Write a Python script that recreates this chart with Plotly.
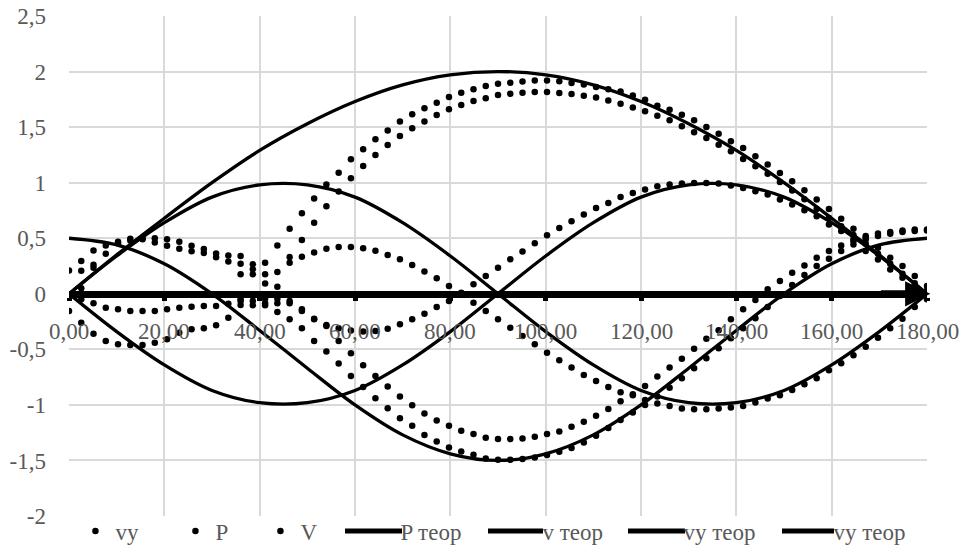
import plotly.graph_objects as go

# Measurement angles (degrees) for the experimental points
phi = [round(k * 180 / 70, 3) for k in range(71)]

# Experimental series, two runs each (None = no reading)
vy_run1 = [
    None, 0.05, 0.235, None, None, None, None, None, None, None,
    None, None, None, None, 0.175, 0.175, 0.093, 0.064, 0.28, 0.333,
    0.372, 0.405, 0.42, 0.42, 0.41, 0.387, 0.35, 0.31, 0.26, 0.20,
    0.14, 0.07, 0.0, -0.08, -0.155, -0.23, -0.305, -0.38, -0.455, -0.53,
    -0.598, -0.664, -0.73, -0.784, -0.84, -0.886, -0.913, -0.955, -0.988, -1.01,
    -1.033, -1.04, -1.04, -1.033, -1.024, -1.01, -0.979, -0.943, -0.913, -0.865,
    -0.814, -0.76, -0.688, -0.625, -0.553, -0.476, -0.395, -0.311, -0.224, -0.12,
    -0.05,
]
vy_run2 = [
    None, None, None, None, None, None, None, None, None, None,
    None, None, None, None, -0.065, -0.065, -0.086, -0.086, -0.086, -0.14,
    -0.225, -0.28, -0.31, -0.33, -0.34, -0.335, -0.314, -0.275, -0.23, -0.179,
    -0.119, -0.065, 0.01, 0.085, 0.16, 0.235, 0.31, 0.38, 0.455, 0.527,
    0.593, 0.653, 0.713, 0.773, 0.818, 0.872, 0.908, 0.938, 0.968, 0.983,
    0.992, 0.998, 0.998, 0.992, 0.974, 0.953, 0.923, 0.893, 0.848, 0.803,
    0.752, 0.698, 0.623, 0.564, 0.474, 0.384, 0.309, 0.219, 0.144, 0.07,
    0.01,
]
P_run1 = [
    0.21, 0.294, 0.39, 0.435, 0.468, 0.495, 0.50, 0.50, 0.49, 0.468,
    0.433, 0.403, 0.363, 0.345, 0.34, 0.265, 0.28, 0.435, 0.585, 0.725,
    0.857, 0.983, 1.09, 1.21, 1.30, 1.39, 1.47, 1.55, 1.615, 1.67,
    1.72, 1.77, 1.81, 1.84, 1.87, 1.89, 1.90, 1.91, 1.92, 1.92,
    1.913, 1.898, 1.883, 1.86, 1.84, 1.82, 1.785, 1.747, 1.693, 1.657,
    1.612, 1.561, 1.501, 1.441, 1.372, 1.313, 1.237, 1.163, 1.088, 1.013,
    0.932, 0.848, 0.764, 0.675, 0.585, 0.504, 0.414, 0.324, 0.249, 0.159,
    0.07,
]
P_run2 = [
    None, 0.207, 0.262, 0.36, 0.455, 0.48, 0.49, 0.462, 0.432, 0.405,
    0.382, 0.366, 0.328, 0.29, 0.27, 0.22, 0.175, 0.195, 0.33, 0.485,
    0.64, 0.787, 0.92, 1.04, 1.15, 1.25, 1.34, 1.42, 1.49, 1.55,
    1.61, 1.66, 1.70, 1.735, 1.76, 1.79, 1.80, 1.81, 1.815, 1.815,
    1.806, 1.797, 1.782, 1.767, 1.74, 1.71, 1.677, 1.642, 1.603, 1.561,
    1.507, 1.453, 1.402, 1.342, 1.282, 1.214, 1.148, 1.08, 1.005, 0.93,
    0.85, 0.764, 0.683, 0.608, 0.53, 0.45, 0.36, 0.27, 0.18, 0.095,
    0.03,
]
V_run1 = [
    None, -0.05, -0.086, -0.125, -0.14, -0.155, -0.155, -0.155, -0.14, -0.125,
    -0.116, -0.11, -0.11, -0.09, -0.05, -0.02, -0.045, -0.045, -0.065, -0.155,
    -0.23, -0.29, -0.425, -0.535, -0.643, -0.74, -0.835, -0.925, -1.003, -1.078,
    -1.14, -1.188, -1.233, -1.263, -1.296, -1.308, -1.308, -1.302, -1.287, -1.263,
    -1.239, -1.197, -1.152, -1.098, -1.038, -0.967, -0.904, -0.829, -0.745, -0.664,
    -0.584, -0.494, -0.404, -0.329, -0.23, -0.14, -0.056, 0.04, 0.114, 0.189,
    0.255, 0.324, 0.384, 0.435, 0.489, 0.519, 0.543, 0.555, 0.57, 0.579,
    0.579,
]
V_run2 = [
    -0.155, -0.26, -0.36, -0.425, -0.455, -0.46, -0.46, -0.44, -0.41, -0.35,
    -0.32, -0.31, -0.284, -0.215, -0.1, -0.104, -0.104, -0.165, -0.23, -0.31,
    -0.425, -0.52, -0.627, -0.74, -0.84, -0.94, -1.03, -1.12, -1.188, -1.27,
    -1.33, -1.383, -1.419, -1.449, -1.482, -1.494, -1.494, -1.488, -1.473, -1.452,
    -1.422, -1.389, -1.338, -1.278, -1.209, -1.137, -1.069, -1.0, -0.925, -0.845,
    -0.76, -0.67, -0.58, -0.49, -0.40, -0.31, -0.22, -0.12, -0.02, 0.08,
    0.17, 0.25, 0.315, 0.384, 0.444, 0.489, 0.52, 0.54, 0.555, 0.565,
    0.57,
]

# Theoretical curves, tabulated every 10 degrees
theta = [0, 10, 20, 30, 40, 50, 60, 70, 80, 90, 100, 110, 120, 130, 140, 150, 160, 170, 180]
P_theor = [0, 0.35, 0.68, 1.0, 1.29, 1.53, 1.73, 1.88, 1.97, 2.0,
           1.97, 1.88, 1.73, 1.53, 1.29, 1.0, 0.68, 0.35, 0]
v_theor = [0.5, 0.44, 0.27, 0.0, -0.33, -0.67, -1.0, -1.27, -1.44, -1.5,
           -1.44, -1.27, -1.0, -0.67, -0.33, 0.0, 0.27, 0.44, 0.5]
vy_theor_a = [0, 0.34, 0.64, 0.87, 0.98, 0.98, 0.87, 0.64, 0.34, 0,
              -0.34, -0.64, -0.87, -0.98, -0.98, -0.87, -0.64, -0.34, 0]
vy_theor_b = [0, -0.34, -0.64, -0.87, -0.98, -0.98, -0.87, -0.64, -0.34, 0,
              0.34, 0.64, 0.87, 0.98, 0.98, 0.87, 0.64, 0.34, 0]

x_ticks = [0, 20, 40, 60, 80, 100, 120, 140, 160, 180]
x_tick_text = ["0,00", "20,00", "40,00", "60,00", "80,00", "100,00", "120,00", "140,00", "160,00", "180,00"]
y_ticks = [-2, -1.5, -1, -0.5, 0, 0.5, 1, 1.5, 2, 2.5]
y_tick_text = ["-2", "-1,5", "-1", "-0,5", "0", "0,5", "1", "1,5", "2", "2,5"]

FONT = "Liberation Serif"
GREY = "#595959"
GRID = "#d9d9d9"
FS = 23

# Figure geometry (pixels)
W, H = 963, 546
ML, MR, MT, MB = 69, 36, 16, 30
LEGEND_Y = -0.03

fig = go.Figure()

dot_series = [
    ("vy", vy_run1, vy_run2, 55),
    ("P", P_run1, P_run2, 40),
    ("V", V_run1, V_run2, 55),
]
for name, run1, run2, lw in dot_series:
    fig.add_trace(go.Scatter(
        x=phi + phi, y=run1 + run2, name=name, mode="markers",
        marker=dict(color="black", size=6.5),
        legendwidth=lw,
    ))

# name, values, legend entry width, legend key span in px
line_series = [
    ("P теор", P_theor, 97, (345, 402)),
    ("v теор", v_theor, 96, (488, 543)),
    ("vy теор", vy_theor_a, 105, (628, 685)),
    ("vy теор", vy_theor_b, 80, (782, 834)),
]
for name, vals, lw, _ in line_series:
    fig.add_trace(go.Scatter(
        x=theta, y=vals, name=name, mode="lines",
        line=dict(color="black", width=3.3, shape="spline"),
        legendwidth=lw,
    ))

# Longer, heavier keys for the line entries of the legend
plot_w = W - ML - MR
for _, _, _, (x0, x1) in line_series:
    fig.add_shape(
        type="line", xref="paper", yref="paper",
        x0=(x0 - ML) / plot_w, x1=(x1 - ML) / plot_w, y0=LEGEND_Y, y1=LEGEND_Y,
        line=dict(color="black", width=5), layer="above",
    )

# Arrowhead at the end of the x-axis line
fig.add_annotation(
    x=180.7, y=0, ax=170, ay=0, xref="x", yref="y", axref="x", ayref="y",
    showarrow=True, arrowhead=2, arrowwidth=7, arrowsize=0.72, arrowcolor="black",
    text="",
)

# Category labels sit just under the zero line
for t, label in zip(x_ticks, x_tick_text):
    fig.add_annotation(
        x=t, y=0, xref="x", yref="y", text=label, showarrow=False,
        xanchor="center", yanchor="middle", yshift=-38,
        font=dict(family=FONT, size=FS, color=GREY),
    )

fig.update_layout(
    width=W, height=H,
    margin=dict(l=ML, r=MR, t=MT, b=MB, autoexpand=False),
    paper_bgcolor="white", plot_bgcolor="white",
    font=dict(family=FONT, size=FS, color=GREY),
    showlegend=True,
    legend=dict(
        orientation="h", x=0.0075, xanchor="left", y=LEGEND_Y, yanchor="middle",
        font=dict(family=FONT, size=FS, color=GREY),
        bgcolor="rgba(0,0,0,0)",
    ),
    xaxis=dict(
        range=[0, 180], tickvals=x_ticks, showticklabels=False,
        showgrid=True, gridcolor=GRID, gridwidth=1.5, zeroline=False,
        anchor="free", position=4 / 9,
        showline=True, linewidth=7, linecolor="black",
        ticks="outside", ticklen=3, tickwidth=5, tickcolor="black",
    ),
    yaxis=dict(
        range=[-2, 2.5], tickvals=y_ticks, ticktext=y_tick_text,
        showgrid=True, gridcolor=GRID, gridwidth=1.5, zeroline=False,
        showline=False, ticks="", ticklabelstandoff=22,
        tickfont=dict(family=FONT, size=FS, color=GREY),
    ),
)

fig.write_html("out.html")
